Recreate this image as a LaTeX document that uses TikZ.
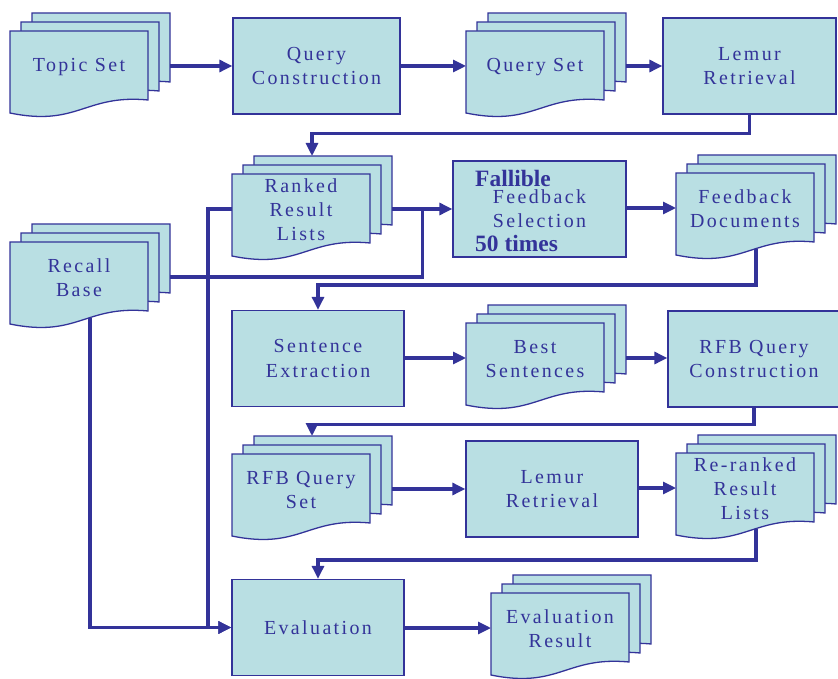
\documentclass[tikz,border=0pt]{standalone}
\usepackage{fontspec}
\setmainfont{Liberation Serif}[LetterSpace=12]
\newfontfamily\boldserif{Liberation Serif}
\usetikzlibrary{arrows.meta,calc}
\definecolor{flowline}{HTML}{333399}
\definecolor{flowfill}{HTML}{B9DFE3}

% stack of three pages: name, x, y (top left of front page), text
\newcommand{\docstack}[4]{%
  \begin{scope}[shift={(#2,#3)}]
    \foreach \dx/\dy in {22/-18,11/-9,0/0}
      \draw[docshape,shift={(\dx,\dy)}] (0,0) -- (138,0) -- (138,69)
        .. controls (75,63) and (68,96) .. (0,82) -- cycle;
    \node[doctext] (#1) at (69,36) {#4};
    \coordinate (#1-w) at (0,35);
    \coordinate (#1-e) at (160,35);
    \coordinate (#1-n) at (80,-18);
    \coordinate (#1-s) at (80,76);
  \end{scope}}

\begin{document}
\begin{tikzpicture}[x=0.03cm,y=-0.03cm,
  docshape/.style={draw=flowline,fill=flowfill,line width=1.1pt},
  doctext/.style={align=center,text=flowline,inner sep=0pt,
    font=\fontsize{17}{20.5}\selectfont},
  procbox/.style={draw=flowline,fill=flowfill,line width=1.1pt,inner sep=0pt,
    minimum width=5.16cm,minimum height=2.88cm,align=center,text=flowline,
    font=\fontsize{17}{20.5}\selectfont},
  boldnote/.style={text=flowline,inner sep=0pt,anchor=west,
    font=\boldserif\bfseries\fontsize{20}{22}\selectfont},
  link/.style={draw=flowline,line width=2.6pt},
  conn/.style={link,-{Triangle[length=3.9mm,width=3.6mm]}}]
	\useasboundingbox (0,0) rectangle (838,679);
	% first row
	\docstack{topic}{10}{31}{Topic Set}
	\node[procbox,minimum width=5.01cm] (qc) at (316.5,66) {Query\\Construction};
	\docstack{qset}{466}{31}{Query Set}
	\node[procbox,minimum width=5.19cm] (lemur1) at (749.5,66) {Lemur\\Retrieval};
	% second row
	\docstack{ranked}{232}{174}{Ranked\\Result\\Lists}
	\node[procbox,minimum width=5.19cm] (fallible) at (539.5,209) {Feedback\\Selection};
	\node[boldnote] (fb-top) at (475,178) {Fallible};
	\node[boldnote] (fb-bot) at (475,243) {50 times};
	\docstack{fbdocs}{676}{173}{Feedback\\Documents}
	\docstack{recall}{10}{242}{Recall\\Base}
	% third row
	\node[procbox] (sentext) at (318,358.5) {Sentence\\Extraction};
	\docstack{best}{466}{323}{Best\\Sentences}
	\node[procbox] (rfbqc) at (754,359) {RFB Query\\Construction};
	% fourth row
	\docstack{rfbq}{232}{454}{RFB Query\\Set}
	\node[procbox] (lemur2) at (552,489) {Lemur\\Retrieval};
	\docstack{rerank}{676}{453}{Re-ranked\\Result\\Lists}
	% last row
	\node[procbox] (eval) at (318,627.5) {Evaluation};
	\docstack{evres}{491}{593}{Evaluation\\Result}
	% connectors
	\draw[conn] (topic-e) -- (topic-e -| qc.west);
	\draw[conn] (qc.east |- qset-w) -- (qset-w);
	\draw[conn] (qset-e) -- (qset-e -| lemur1.west);
	\draw[conn] (lemur1.south) -- ++(0,19) -| (ranked-n);
	\draw[conn] (ranked-e) -- (ranked-e -| fallible.west);
	\draw[link] (recall-e) -| ($(ranked-e)!0.5!(ranked-e -| fallible.west)$);
	\draw[conn] (fallible.east |- fbdocs-w) -- (fbdocs-w);
	\draw[conn] (fbdocs-s) -- ++(0,36) -| (sentext.north);
	\draw[conn] (sentext.east |- best-w) -- (best-w);
	\draw[conn] (best-e) -- (best-e -| rfbqc.west);
	\draw[conn] (rfbqc.south) -- ++(0,17) -| (rfbq-n);
	\draw[conn] (rfbq-e) -- (rfbq-e -| lemur2.west);
	\draw[conn] (lemur2.east |- rerank-w) -- (rerank-w);
	\draw[conn] (rerank-s) -- ++(0,31) -| (eval.north);
	\draw[conn] (recall-s) |- (eval.west);
	\draw[conn] (ranked-w) -- ++(-24,0) |- (eval.west);
	\draw[conn] (eval.east |- evres-w) -- (evres-w);
\end{tikzpicture}
\end{document}
